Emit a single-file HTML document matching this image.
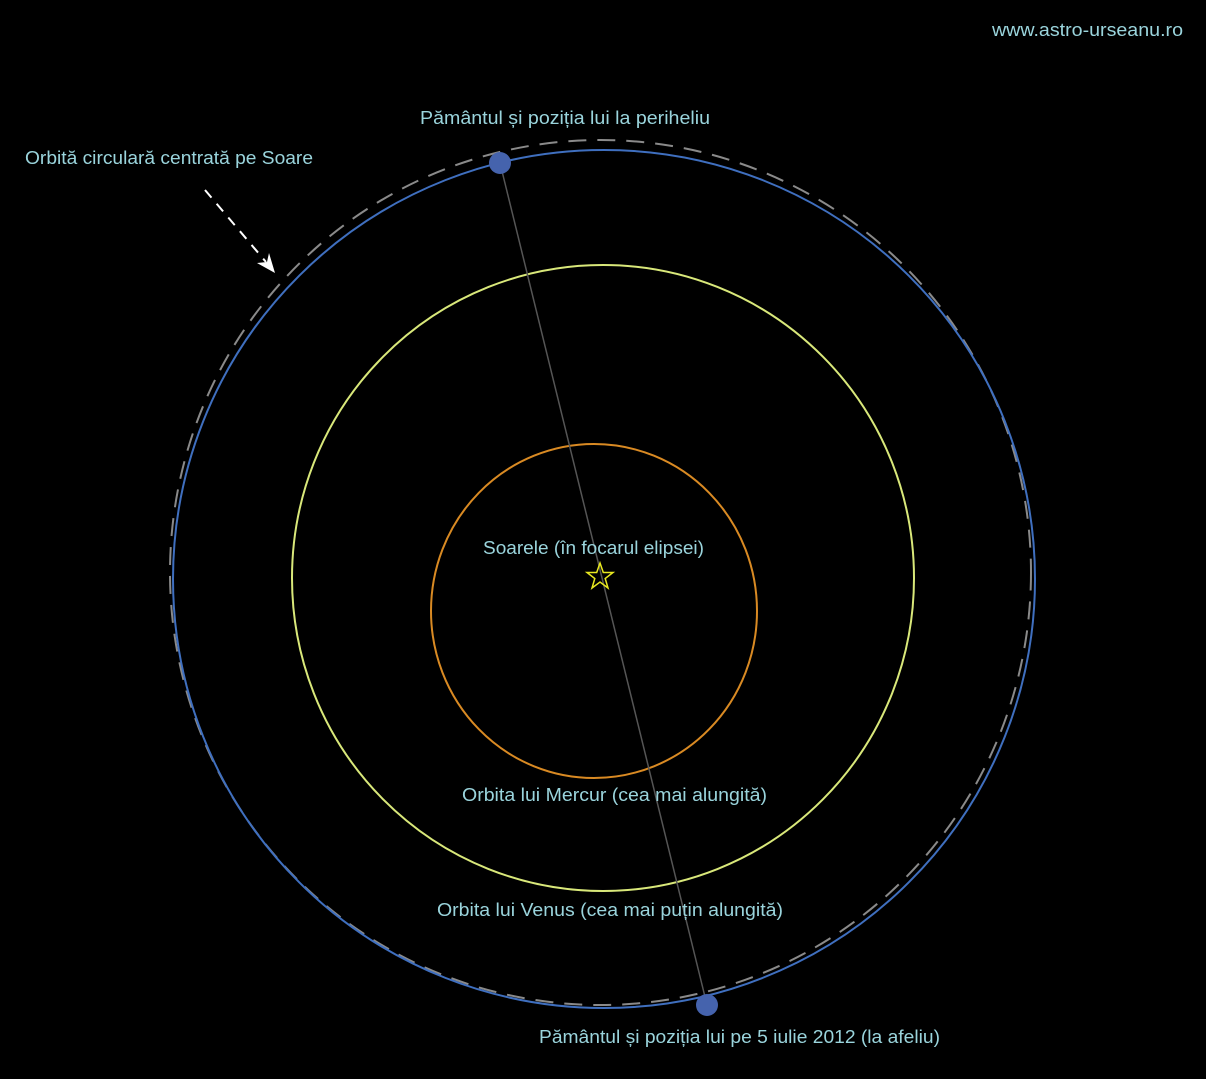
<!DOCTYPE html>
<html><head><meta charset="utf-8"><style>
html,body{margin:0;padding:0;background:#000;}
svg{display:block}
text{font-family:"Liberation Sans",sans-serif;font-size:18px;fill:#9ad4dc;}
</style></head><body>
<svg width="1206" height="1079" viewBox="0 0 1206 1079" xmlns="http://www.w3.org/2000/svg">
<rect width="1206" height="1079" fill="#000"/>
<ellipse cx="600.5" cy="572.5" rx="430.5" ry="432.5" fill="none" stroke="#8a8a8a" stroke-width="2" stroke-dasharray="18,11"/>
<ellipse cx="604" cy="579" rx="431" ry="429" fill="none" stroke="#3f6fbf" stroke-width="2"/>
<ellipse cx="603" cy="578" rx="311" ry="313" fill="none" stroke="#d9e87a" stroke-width="2"/>
<ellipse cx="594" cy="611" rx="163" ry="167" fill="none" stroke="#d98a23" stroke-width="2"/>
<line x1="500" y1="163" x2="707" y2="1005" stroke="#555" stroke-width="1.5"/>
<circle cx="500" cy="163" r="11" fill="#4563ad"/>
<circle cx="707" cy="1005" r="11" fill="#4563ad"/>
<polygon points="600,563 603.3,572.5 613,572.5 605.2,578.5 608,588 600,582 592,588 594.8,578.5 587,572.5 596.7,572.5" fill="none" stroke="#e8e820" stroke-width="1.5"/>
<line x1="205" y1="190" x2="266" y2="262" stroke="#fff" stroke-width="2" stroke-dasharray="10,8"/>
<polygon points="275,273 257,263 267,262 269,253" fill="#fff"/>
<text x="992" y="36" textLength="191" lengthAdjust="spacingAndGlyphs">www.astro-urseanu.ro</text>
<text x="420" y="124" textLength="290" lengthAdjust="spacingAndGlyphs">Pământul și poziția lui la periheliu</text>
<text x="25" y="164" textLength="288" lengthAdjust="spacingAndGlyphs">Orbită circulară centrată pe Soare</text>
<text x="483" y="554" textLength="221" lengthAdjust="spacingAndGlyphs">Soarele (în focarul elipsei)</text>
<text x="462" y="801" textLength="305" lengthAdjust="spacingAndGlyphs">Orbita lui Mercur (cea mai alungită)</text>
<text x="437" y="916" textLength="346" lengthAdjust="spacingAndGlyphs">Orbita lui Venus (cea mai puțin alungită)</text>
<text x="539" y="1043" textLength="401" lengthAdjust="spacingAndGlyphs">Pământul și poziția lui pe 5 iulie 2012 (la afeliu)</text>
</svg>
</body></html>
